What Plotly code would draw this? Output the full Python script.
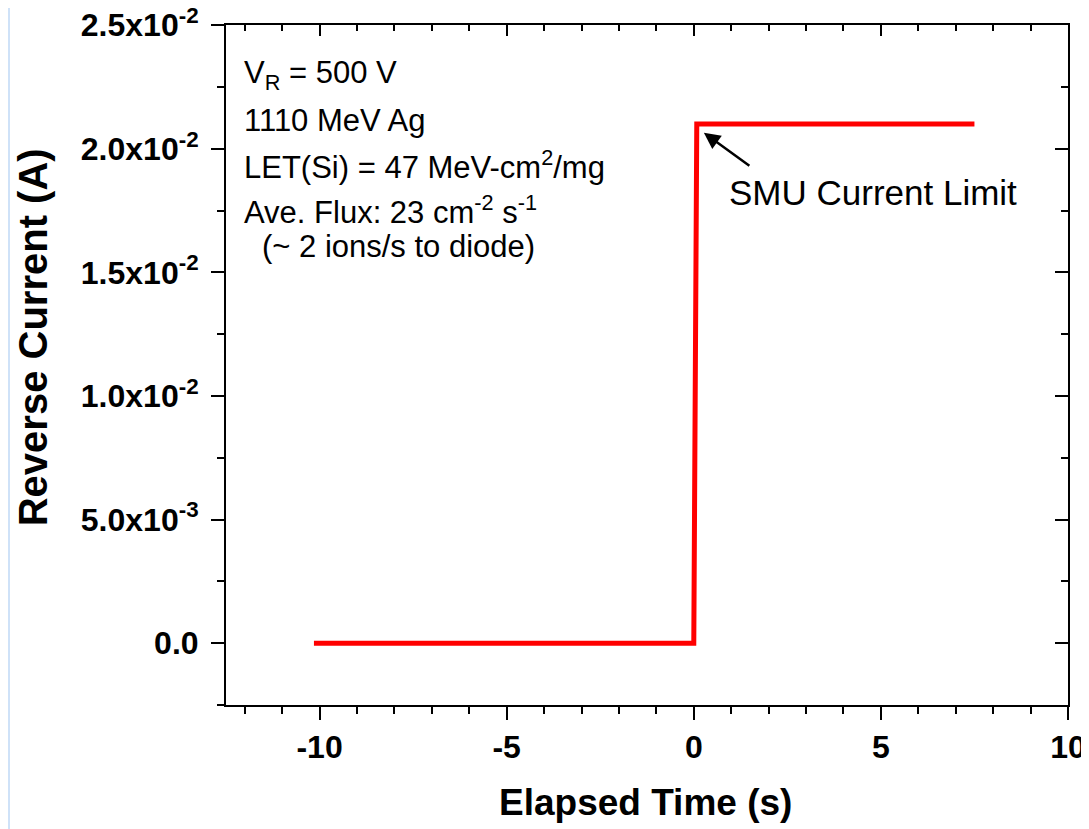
import plotly.graph_objects as go

# ---- data ----
time_s = [-10.15, 0.0, 0.08, 7.5]
current_a = [0.0, 0.0, 0.021, 0.021]

x_tickvals = [-10, -5, 0, 5, 10]
x_ticktext = ["-10", "-5", "0", "5", "10"]
y_tickvals = [0.0, 0.005, 0.010, 0.015, 0.020, 0.025]
y_ticktext = ["0.0", "5.0x10<sup>-3</sup>", "1.0x10<sup>-2</sup>", "1.5x10<sup>-2</sup>",
              "2.0x10<sup>-2</sup>", "2.5x10<sup>-2</sup>"]

info_lines = ["V<sub>R</sub> = 500 V",
              "1110 MeV Ag",
              "LET(Si) = 47 MeV-cm<sup>2</sup>/mg",
              "Ave. Flux: 23 cm<sup>-2</sup> s<sup>-1</sup>",
              "(~ 2 ions/s to diode)"]
limit_label = "SMU Current Limit"

FONT = "Liberation Sans, Arial, sans-serif"
XR = [-12.5, 10]
YR = [-0.0025, 0.02501]

fig = go.Figure()
fig.add_trace(go.Scatter(x=time_s, y=current_a, mode="lines",
                         line=dict(color="#ff0000", width=5),
                         showlegend=False, hoverinfo="skip"))
# invisible trace on a second, coincident subplot that carries the top/right inside ticks
fig.add_trace(go.Scatter(x=time_s, y=current_a, mode="lines", xaxis="x2", yaxis="y2",
                         line=dict(color="rgba(0,0,0,0)", width=0),
                         showlegend=False, hoverinfo="skip"))

tickfont = dict(family=FONT, size=32, color="black", weight="bold")

# page body has an 8px margin: figure origin sits at (8, 8)
fig.update_layout(
    width=1081, height=821,
    margin=dict(l=218, r=21, t=17, b=124, autoexpand=False),
    paper_bgcolor="white", plot_bgcolor="rgba(0,0,0,0)",
    font=dict(family=FONT, color="black"),
    xaxis=dict(range=XR, tickvals=x_tickvals, ticktext=x_ticktext, automargin=False,
               domain=[0, 1], anchor="y",
               ticks="outside", ticklen=13, tickwidth=2, tickcolor="black",
               minor=dict(dtick=1, ticks="outside", ticklen=7, tickwidth=2, tickcolor="black"),
               showline=True, mirror=True, linewidth=2, linecolor="black",
               showgrid=False, zeroline=False,
               tickfont=tickfont, ticklabeloverflow="allow"),
    yaxis=dict(range=YR, tickvals=y_tickvals, ticktext=y_ticktext, automargin=False,
               domain=[0, 1], anchor="x",
               ticks="outside", ticklen=13, tickwidth=2, tickcolor="black",
               minor=dict(dtick=0.0025, ticks="outside", ticklen=7, tickwidth=2, tickcolor="black"),
               showline=True, mirror=True, linewidth=2, linecolor="black",
               showgrid=False, zeroline=False,
               tickfont=tickfont, ticklabelstandoff=6, ticklabeloverflow="allow"),
    xaxis2=dict(range=XR, domain=[0, 1], anchor="y2", side="top",
                tickmode="array", tickvals=x_tickvals, automargin=False,
                ticks="inside", ticklen=11, tickwidth=2, tickcolor="black",
                minor=dict(dtick=1, ticks="inside", ticklen=6, tickwidth=2, tickcolor="black"),
                showline=True, linewidth=2, linecolor="black", showgrid=False, zeroline=False,
                showticklabels=False),
    yaxis2=dict(range=YR, domain=[0, 1], anchor="x2", side="right",
                tickmode="array", tickvals=y_tickvals, automargin=False,
                ticks="inside", ticklen=13, tickwidth=2, tickcolor="black",
                minor=dict(dtick=0.0025, ticks="inside", ticklen=7, tickwidth=2, tickcolor="black"),
                showline=True, linewidth=2, linecolor="black", showgrid=False, zeroline=False,
                showticklabels=False),
)

# light blue strip at left edge of the page
fig.add_shape(type="rect", xref="paper", yref="paper",
              x0=-218/842, x1=-216/842, y0=-124/680, y1=1 + 17/680,
              fillcolor="#cfe2f8", line=dict(width=0), layer="below")

# info text block
ys = [0.926, 0.860, 0.794, 0.728, 0.674]
xs = [0.019, 0.019, 0.019, 0.019, 0.040]
for t, xx, yy in zip(info_lines, xs, ys):
    fig.add_annotation(text=t, xref="paper", yref="paper", x=xx, y=yy,
                       xanchor="left", yanchor="middle", showarrow=False,
                       font=dict(family=FONT, size=31, color="black"))

# SMU limit label and arrow
fig.add_annotation(text=limit_label, xref="paper", yref="paper", x=0.595, y=0.754,
                   xanchor="left", yanchor="middle", showarrow=False,
                   font=dict(family=FONT, size=35, color="black"))
fig.add_annotation(text="", x=0.27, y=0.02065, xref="x", yref="y",
                   ax=47, ay=34, showarrow=True, arrowhead=2, arrowsize=1.3,
                   arrowwidth=2.5, arrowcolor="black")

# axis titles
fig.add_annotation(text="Reverse Current (A)", xref="paper", yref="paper",
                   x=-0.229, y=0.541, textangle=-90, showarrow=False,
                   xanchor="center", yanchor="middle",
                   font=dict(family=FONT, size=40, color="black", weight="bold"))
fig.add_annotation(text="Elapsed Time (s)", xref="paper", yref="paper",
                   x=0.498, y=-0.144, showarrow=False,
                   xanchor="center", yanchor="middle",
                   font=dict(family=FONT, size=37, color="black", weight="bold"))

fig.write_html("out.html")
